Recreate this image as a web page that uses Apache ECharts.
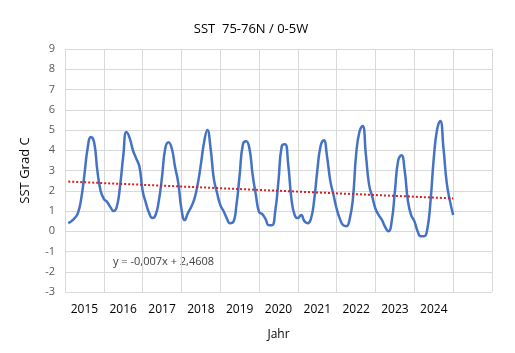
<!DOCTYPE html>
<html>
<head>
<meta charset="utf-8">
<script src="https://cdn.jsdelivr.net/npm/echarts@6/dist/echarts.min.js"></script>
<style>
  html, body { margin: 0; padding: 0; background: #fff; }
  #chart { width: 515px; height: 353px; }
</style>
</head>
<body>
<div id="chart"></div>
<script>
// monthly SST values, month 1..120 (Jan 2015 .. Dec 2024)
var sstValues = [
  0.4, 0.5, 0.65, 0.9, 1.6, 2.8, 4.1, 4.65, 4.4, 3.0, 2.0, 1.6,
  1.45, 1.2, 1.0, 1.2, 2.2, 3.7, 4.9, 4.6, 4.0, 3.6, 3.2, 2.0,
  1.4, 0.9, 0.65, 0.8, 1.5, 2.7, 4.1, 4.4, 4.1, 3.2, 2.4, 1.1,
  0.55, 0.9, 1.2, 1.6, 2.3, 3.3, 4.4, 5.0, 4.1, 2.6, 1.9, 1.3,
  1.0, 0.65, 0.4, 0.45, 1.3, 2.8, 4.3, 4.45, 4.1, 2.8, 1.8, 0.95,
  0.85, 0.6, 0.3, 0.3, 1.0, 2.5, 4.2, 4.3, 3.3, 1.6, 0.8, 0.65,
  0.8, 0.5, 0.4, 0.6, 1.5, 3.0, 4.2, 4.5, 3.7, 2.5, 1.8, 1.1,
  0.6, 0.3, 0.25, 0.6, 1.6, 3.8, 4.9, 5.2, 3.8, 2.3, 1.7, 1.1,
  0.8, 0.55, 0.2, 0.0, 0.5, 2.0, 3.5, 3.75, 3.0, 1.5, 0.8, 0.5,
  0.0, -0.25, -0.25, 0.1, 1.5, 3.6, 5.0, 5.45, 4.1, 2.4, 1.5, 0.8
];
var yearLabels = ['2015', '2016', '2017', '2018', '2019', '2020', '2021', '2022', '2023', '2024', ''];
// linear trend, read at first and last month
var trendMonths = [1, 120];
var trendValues = [2.454, 1.621];
var trendText = 'y = -0,007x + 2,4608';

var sstData = sstValues.map(function (v, i) { return [i + 1, v]; });
var trendData = trendMonths.map(function (m, i) { return [m, trendValues[i]]; });

var chart = echarts.init(document.getElementById('chart'), null, { renderer: 'canvas' });
var font = '"Open Sans", sans-serif';

chart.setOption({
  animation: false,
  textStyle: { fontFamily: font },
  title: {
    text: 'SST  75-76N / 0-5W',
    left: 246,
    top: 18,
    textAlign: 'center',
    textStyle: { fontSize: 13, fontWeight: 'normal', color: '#000', fontFamily: font }
  },
  grid: { left: 65, right: 23, top: 49, bottom: 61 },
  xAxis: [
    {
      type: 'value',
      min: 0,
      max: 132,
      interval: 12,
      axisLine: { show: false },
      axisTick: { show: false },
      axisLabel: { show: false },
      splitLine: { show: true, lineStyle: { color: '#d9d9d9', width: 1 } }
    },
    {
      type: 'category',
      position: 'bottom',
      data: yearLabels,
      boundaryGap: true,
      axisLine: { show: false },
      axisTick: { show: false },
      splitLine: { show: false },
      axisLabel: { margin: 12, fontSize: 12, color: '#000', fontFamily: font },
      name: 'Jahr',
      nameLocation: 'middle',
      nameGap: 37,
      nameTextStyle: { fontSize: 12, color: '#000', fontFamily: font }
    }
  ],
  yAxis: {
    type: 'value',
    min: -3,
    max: 9,
    interval: 1,
    axisLine: { show: false },
    axisTick: { show: false },
    axisLabel: { fontSize: 11, color: '#595959', margin: 10, fontFamily: font },
    splitLine: { show: true, lineStyle: { color: '#d9d9d9', width: 1 } },
    name: 'SST Grad C',
    nameLocation: 'middle',
    nameGap: 33,
    nameRotate: 90,
    nameTextStyle: { fontSize: 13, color: '#000', fontFamily: font }
  },
  series: [
    {
      type: 'line',
      xAxisIndex: 0,
      data: sstData,
      smooth: 0.5,
      showSymbol: false,
      lineStyle: { color: '#4472c4', width: 2.5 },
      z: 3
    },
    {
      type: 'line',
      xAxisIndex: 0,
      data: trendData,
      showSymbol: false,
      lineStyle: { color: '#d42020', width: 2, type: [2, 2] },
      z: 4
    }
  ],
  graphic: [
    {
      type: 'text',
      left: 113,
      top: 256,
      style: { text: trendText, fontSize: 11, fill: '#404040', fontFamily: font }
    }
  ]
});
</script>
</body>
</html>
